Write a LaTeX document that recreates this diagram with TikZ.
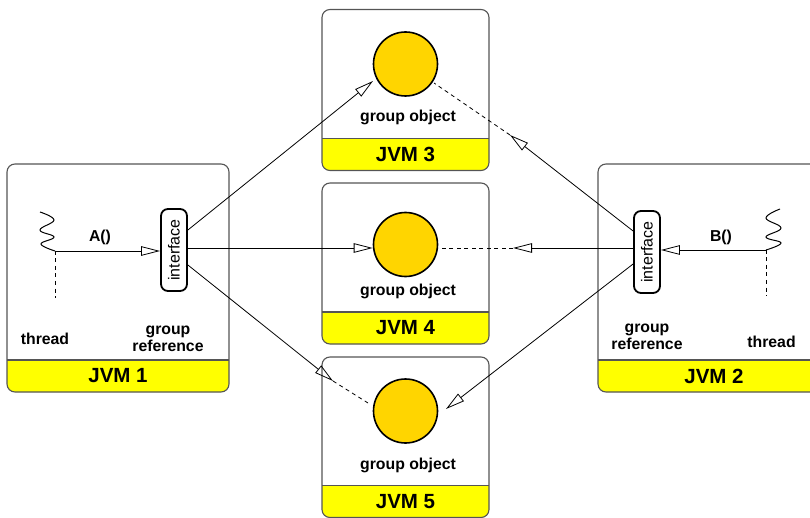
\documentclass[tikz,border=0pt]{standalone}
\usepackage{fontspec}
\usepackage{graphicx}
\setmainfont{Liberation Sans}
\usetikzlibrary{arrows.meta,calc}
\definecolor{jvmyellow}{RGB}{255,255,0}
\definecolor{objgold}{RGB}{255,213,0}
\definecolor{boxgray}{RGB}{85,85,85}
\tikzset{
 boxbg/.style={fill=white, inner sep=0pt, outer sep=0pt, rectangle, rounded corners=8pt},
 boxline/.style={draw=boxgray, line width=1.1pt},
 jvmlabel/.style={font=\fontsize{20.5}{24}\selectfont\bfseries, inner sep=0pt},
 lbl/.style={font=\fontsize{15.8}{17}\selectfont\bfseries, align=center, inner sep=0pt},
 gobj/.style={circle, draw=black, line width=1.6pt, fill=objgold, minimum size=64pt, inner sep=0pt},
 iface/.style={draw=black, line width=1.8pt, rounded corners=7pt, fill=white, minimum width=26pt, minimum height=82pt, inner sep=0pt, font=\fontsize{16}{18}\selectfont},
 conn/.style={draw=black, line width=0.8pt},
 tip/.style={-{Triangle[open, length=19pt, width=9.5pt, line width=0.8pt]}},
 dashconn/.style={conn, dash pattern=on 4pt off 3.5pt},
 thr/.style={draw=black, line width=1pt},
}
\newcommand\jvmbox[6]{%
 \node[boxbg, minimum width=#4pt, minimum height=#5pt, anchor=north west] (#1) at (#2,#3) {};
 \begin{scope}
  \clip ([yshift=32pt]#1.south west) rectangle ([xshift=2pt,yshift=-2pt]#1.south east);
  \fill[jvmyellow, rounded corners=8pt] (#1.south west) rectangle (#1.north east);
 \end{scope}
 \draw[boxline] ([yshift=32pt]#1.south west) -- ([yshift=32pt]#1.south east);
 \draw[boxline, rounded corners=8pt] (#1.south west) rectangle (#1.north east);
 \node[jvmlabel] (#1-label) at ([yshift=16pt]#1.south) {#6};
}
\begin{document}
\begin{tikzpicture}[x=1pt,y=-1pt]
\useasboundingbox (0,0) rectangle (810,518);
\clip (0,0) rectangle (810,518);
\jvmbox{b1}{7}{164}{222}{228}{JVM 1}
\jvmbox{b2}{598}{164}{232}{228}{JVM 2}
\jvmbox{b3}{322}{9.5}{167}{161}{JVM 3}
\jvmbox{b4}{322}{183}{167}{161}{JVM 4}
\jvmbox{b5}{322}{357}{167}{160.5}{JVM 5}

% group objects
\node[gobj] (c3) at (405.5,64) {};
\node[gobj] (c4) at (405.5,244.5) {};
\node[gobj] (c5) at (405.5,411) {};
\node[lbl] (g3) at (408,117) {group object};
\node[lbl] (g4) at (408,291) {group object};
\node[lbl] (g5) at (408,465) {group object};

% interfaces
\node[iface] (i1) at (174,250) {\rotatebox{90}{interface}};
\node[iface] (i2) at (647,252) {\rotatebox{90}{interface}};

% labels in JVM 1 / JVM 2
\node[lbl] (th1) at (45,339) {thread};
\node[lbl] (gr1) at (168,339) {group\\reference};
\node[lbl] (th2) at (771.5,342) {thread};
\node[lbl] (gr2) at (647,337) {group\\reference};
\node[lbl] (la) at (100,237) {A()};
\node[lbl] (lb) at (721,237) {B()};

% threads
\coordinate (t1) at (55,251);
\coordinate (t1d) at (55,298);
\draw[thr] plot[smooth, tension=0.7] coordinates {(40,212) (54,220) (40,230) (54,237) (41,244) (55,251)};
\draw[conn, tip] (t1) -- (t1 -| i1.west);
\draw[dashconn] (t1) -- (t1d);

\coordinate (t2) at (766,250);
\coordinate (t2d) at (766,296);
\draw[thr] plot[smooth, tension=0.7] coordinates {(780,209) (766,218) (781,228) (766,237) (781,243) (766,250)};
\draw[conn, tip] (t2) -- (t2 -| i2.east);
\draw[dashconn] (t2) -- (t2d);

% connectors from JVM 1
\coordinate (p13) at (373,81);
\coordinate (p15) at (333,381);
\coordinate (q15) at (368,403);
\draw[conn, tip] ([yshift=20pt]i1.east) -- (p13);
\draw[conn, tip] ([yshift=2pt]i1.east) -- ([yshift=2pt]i1.east -| c4.west);
\draw[conn, tip] ([yshift=-15pt]i1.east) -- (p15);
\draw[dashconn] (p15) -- (q15);

% connectors from JVM 2
\coordinate (p23) at (510,135);
\coordinate (q23) at (434,83);
\coordinate (p24) at (513,248);
\coordinate (p25) at (446,409);
\draw[conn, tip] ([yshift=21pt]i2.west) -- (p23);
\draw[dashconn] (p23) -- (q23);
\draw[conn, tip] ([yshift=4pt]i2.west) -- (p24);
\draw[dashconn] (p24) -- (p24 -| c4.east);
\draw[conn, tip] ([yshift=-12pt]i2.west) -- (p25);
\end{tikzpicture}
\end{document}
